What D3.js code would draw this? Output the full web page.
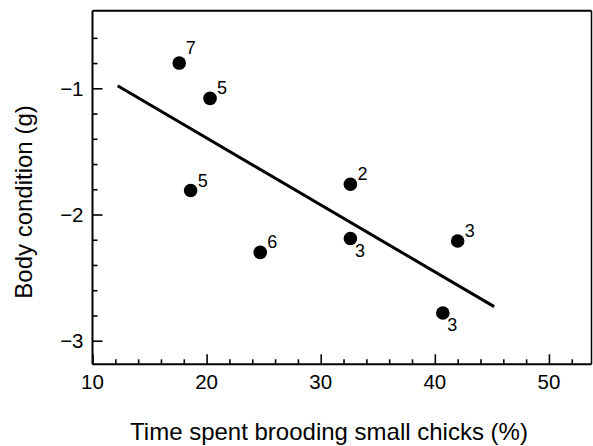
<!DOCTYPE html>
<html>
<head>
<meta charset="utf-8">
<script src="https://cdn.jsdelivr.net/npm/d3@7"></script>
<style>
  body { margin: 0; background: #fff; }
  svg text { font-family: "Liberation Sans", Arial, Helvetica, sans-serif; fill: #000; }
</style>
</head>
<body>
<svg id="chart" width="593" height="446"></svg>
<script>
// data
const brooding = [17.6, 20.3, 18.6, 24.7, 32.6, 32.6, 42.0, 40.7];
const condition = [-0.80, -1.08, -1.81, -2.30, -1.76, -2.19, -2.21, -2.78];
const sampleSize = ['7', '5', '5', '6', '2', '3', '3', '3'];
const labelSide = ['n', 'ne', 'ne', 'ne', 'ne', 'se', 'ne', 'se'];
const fitX = [12.2, 45.2];
const fitY = [-0.98, -2.73];
const xTicks = [10, 20, 30, 40, 50];
const yTicks = [-1, -2, -3];

const width = 593, height = 446;
const margin = {top: 10.7, right: 1.5, bottom: 81.7, left: 92.5},
    chartWidth = width - margin.left - margin.right,
    chartHeight = height - margin.top - margin.bottom;

const svg = d3.select('#chart');

// ---------- Scales
const xScale = d3.scaleLinear()
  .domain([10, 53.73])
  .range([0, chartWidth]);

const yScale = d3.scaleLinear()
  .domain([-3.187, -0.385])
  .range([chartHeight, 0]);

const g = svg.append('g')
    .attr('transform', `translate(${margin.left}, ${margin.top})`);

// frame (top and right)
g.append('line')
    .attr('x1', 0).attr('x2', chartWidth).attr('y1', 0).attr('y2', 0)
    .attr('stroke', '#000').attr('stroke-width', 2);
g.append('line')
    .attr('x1', chartWidth).attr('x2', chartWidth).attr('y1', 0).attr('y2', chartHeight)
    .attr('stroke', '#000').attr('stroke-width', 1.5);

// x axis, ticks pointing inward
const xMinor = d3.range(12, 53, 2).filter(v => v % 10 !== 0);
const xAxis = g.append('g')
    .attr('transform', `translate(0, ${chartHeight})`);
xAxis.append('g')
    .call(d3.axisTop(xScale).tickValues(xMinor).tickSize(5).tickFormat('').tickSizeOuter(0))
    .call(a => a.select('.domain').remove());
xAxis.append('g')
    .call(d3.axisTop(xScale).tickValues(xTicks).tickSize(10).tickFormat('').tickSizeOuter(0))
    .call(a => a.select('.domain').attr('d', `M0,0H${chartWidth}`));
xAxis.selectAll('line').attr('stroke-width', 1.6);
xAxis.selectAll('.domain').attr('stroke-width', 2);
xAxis.selectAll('.xlab')
    .data(xTicks)
  .enter().append('text')
    .attr('class', 'xlab')
    .attr('x', d => xScale(d))
    .attr('y', 25)
    .attr('text-anchor', 'middle')
    .style('font-size', '20.5px')
    .text(d => d);

// y axis, ticks pointing inward
const yMinor = d3.range(-3.0, -0.5, 0.2).map(v => +v.toFixed(1)).filter(v => !Number.isInteger(v));
const yAxis = g.append('g');
yAxis.append('g')
    .call(d3.axisRight(yScale).tickValues(yMinor).tickSize(5).tickFormat('').tickSizeOuter(0))
    .call(a => a.select('.domain').remove());
yAxis.append('g')
    .call(d3.axisRight(yScale).tickValues(yTicks).tickSize(10).tickFormat('').tickSizeOuter(0))
    .call(a => a.select('.domain').attr('d', `M0,0V${chartHeight}`));
yAxis.selectAll('line').attr('stroke-width', 1.6);
yAxis.selectAll('.domain').attr('stroke-width', 2);
yAxis.selectAll('.ylab')
    .data(yTicks)
  .enter().append('text')
    .attr('class', 'ylab')
    .attr('x', -9)
    .attr('y', d => yScale(d))
    .attr('dy', '0.36em')
    .attr('text-anchor', 'end')
    .style('font-size', '20.5px')
    .text(d => '\u2212' + Math.abs(d));

// regression line
const fit = fitX.map((x, i) => ({x: x, y: fitY[i]}));
g.append('path')
    .datum(fit)
    .attr('fill', 'none')
    .attr('stroke', '#000')
    .attr('stroke-width', 3)
    .attr('d', d3.line().x(d => xScale(d.x)).y(d => yScale(d.y)));

// points
const points = brooding.map((x, i) => ({x: x, y: condition[i], n: sampleSize[i], side: labelSide[i]}));
g.selectAll('circle')
    .data(points)
  .enter().append('circle')
    .attr('cx', d => xScale(d.x))
    .attr('cy', d => yScale(d.y))
    .attr('r', 6.8)
    .attr('fill', '#000');

const offsets = {n: [6.5, -9], ne: [7, -4], se: [4.5, 18.5]};
g.selectAll('.nlab')
    .data(points)
  .enter().append('text')
    .attr('class', 'nlab')
    .attr('x', d => xScale(d.x) + offsets[d.side][0])
    .attr('y', d => yScale(d.y) + offsets[d.side][1])
    .style('font-size', '18px')
    .text(d => d.n);

// axis titles
svg.append('text')
    .attr('x', 329)
    .attr('y', 440)
    .attr('text-anchor', 'middle')
    .style('font-size', '24px')
    .text('Time spent brooding small chicks (%)');

svg.append('text')
    .attr('transform', 'translate(32, 202) rotate(-90)')
    .attr('text-anchor', 'middle')
    .style('font-size', '24px')
    .text('Body condition (g)');
</script>
</body>
</html>
